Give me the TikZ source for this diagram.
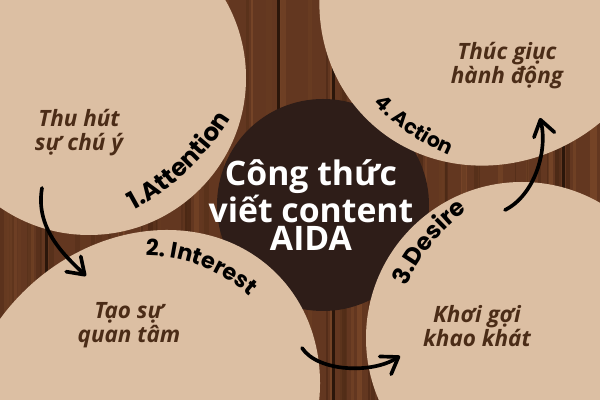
\documentclass[tikz,border=0pt]{standalone}
\usepackage{fontspec}
\usetikzlibrary{decorations.text,arrows.meta}
\newfontfamily\lblfam{Poppins}
\newfontfamily\vnfam{Open Sans}
\definecolor{beige}{HTML}{DCBFA3}
\definecolor{cocoa}{HTML}{2E1D18}
\definecolor{inkbrown}{HTML}{4B2C17}
\definecolor{woodbase}{HTML}{633720}
\definecolor{woodlight}{HTML}{8E5531}
\definecolor{wooddark}{HTML}{361B0C}

\begin{document}
\begin{tikzpicture}[x=0.025cm, y=0.025cm]
  \tikzstyle{blob} = [fill=beige]
  \tikzstyle{desc} = [text=inkbrown, align=center, font=\vnfam\bfseries\itshape\fontsize{16}{17}\selectfont]
  \tikzstyle{stage} = [decorate, decoration={text along path, text align=center, text color=black}]
  \tikzstyle{flow} = [line width=2.6pt, line cap=round, -{Straight Barb[length=11pt, width=15pt, round]}]

  \useasboundingbox (0,0) rectangle (600,400);
  \clip (0,0) rectangle (600,400);

  % Wood
  \fill[woodbase] (0,0) rectangle (600,400);
  \pgfmathsetseed{11}
  \foreach \i in {1,...,90} {
    \pgfmathsetmacro\xx{rnd*600}
    \pgfmathsetmacro\ww{1+rnd*6}
    \pgfmathtruncatemacro\mix{rnd*100}
    \fill[woodlight!\mix!wooddark, opacity=0.45] (\xx,0) rectangle ++(\ww,400);
  }
  \foreach \xx in {45,277,332,562} \fill[wooddark!80!black] (\xx,0) rectangle ++(2.5,400);

  % Circles
  \fill[cocoa] (323,195) circle[radius=106];
  \fill[blob] (89,322) circle[radius=157];
  \fill[blob, shift={(495,410)}, rotate=45] (0,0) ellipse[x radius=182, y radius=169];
  \fill[blob, shift={(140,-10)}, rotate=45] (0,0) ellipse[x radius=193, y radius=166];
  \fill[blob] (522,62) circle[radius=156];

  % Texts
  \node[desc] (Attn) at (79,267) {Thu hút\\sự chú ý};
  \node[desc] (Actn) at (507,334) {Thúc giục\\hành động};
  \node[desc] (Intr) at (129,75) {Tạo sự\\quan tâm};
  \node[desc] (Desr) at (477,74) {Khơi gợi\\khao khát};
  \node[text=white, align=center, font=\vnfam\bfseries\fontsize{24}{19.8}\selectfont] (Title) at (311,195) {Công thức\\viết content\\AIDA};

  % Stages
  \path[stage, decoration={text={|\lblfam\bfseries\fontsize{17.5}{17.5}\selectfont|1.Attention}}]
    (10,420) ++(-80:261) arc[start angle=-80, end angle=-14, radius=261];
  \path[stage, decoration={text={|\lblfam\bfseries\fontsize{16}{16}\selectfont|2. Interest}}]
    (145,-13) ++(109:157) arc[start angle=109, end angle=29, radius=157];
  \path[stage, decoration={text={|\lblfam\bfseries\fontsize{17}{17}\selectfont|3.Desire}}]
    (578,37) ++(170:188) arc[start angle=170, end angle=112, radius=188];
  \path[stage, decoration={text={|\lblfam\bfseries\fontsize{14.5}{14.5}\selectfont|4. Action}}]
    (540,458) ++(205:232) arc[start angle=205, end angle=266, radius=232];

  % Arrows
  \coordinate (a1) at (42,212);
  \coordinate (b1) at (86,124);
  \coordinate (a2) at (302,52);
  \coordinate (b2) at (400,44);
  \coordinate (a3) at (505,190);
  \coordinate (b3) at (540,282);
  \draw[flow] (a1) .. controls (35,172) and (64,145) .. (b1);
  \draw[flow] (a2) .. controls (318,28) and (372,26) .. (b2);
  \draw[flow] (a3) .. controls (535,205) and (548,250) .. (b3);

\end{tikzpicture}
\end{document}
